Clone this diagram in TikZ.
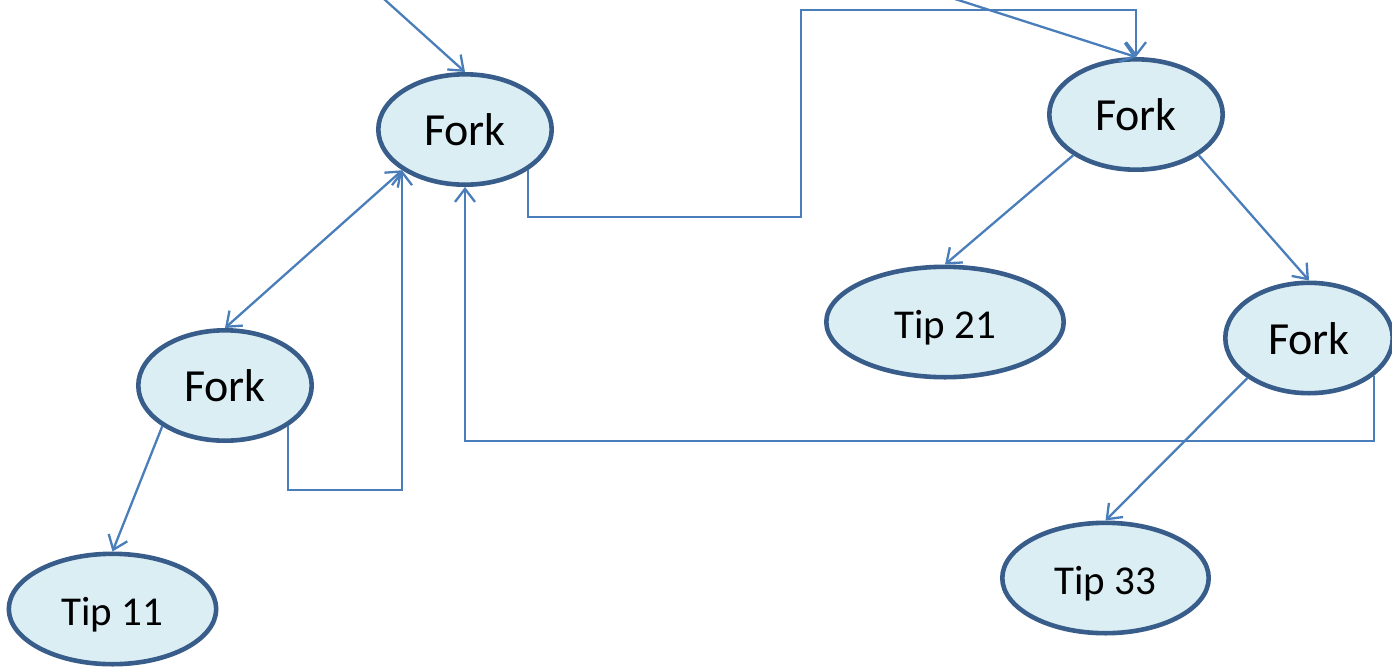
\documentclass[tikz,border=0pt]{standalone}
\usepackage{fontspec}
\setmainfont{Carlito}
\usetikzlibrary{shapes.geometric,arrows.meta}
\definecolor{edgeblue}{HTML}{4A7EBB}
\definecolor{rimblue}{HTML}{385D8A}
\definecolor{fillblue}{HTML}{DBEEF4}
\begin{document}
\begin{tikzpicture}[x=1pt,y=-1pt,
  oval/.style={ellipse,draw=rimblue,fill=fillblue,line width=4.6pt,inner sep=0pt,
    text height=32pt,text depth=0pt,minimum height=110.4pt},
  forkn/.style={oval,minimum width=173.4pt,font=\fontsize{46}{46}\selectfont},
  tipn/.style={oval,font=\fontsize{41}{41}\selectfont},
  conn/.style={draw=edgeblue,line width=2.3pt,-{Straight Barb[length=13pt,width=20pt]}},
  conntwo/.style={draw=edgeblue,line width=2.3pt,{Straight Barb[length=13pt,width=20pt]}-{Straight Barb[length=13pt,width=20pt]}}]
\useasboundingbox (0,0) rectangle (1392,667);
\node[forkn] (f1) at (465,129.5) {Fork};
\node[forkn] (f2) at (1136,114.5) {Fork};
\node[forkn] (f3) at (225,385.5) {Fork};
\node[forkn,minimum width=167.4pt] (f4) at (1309,338) {Fork};
\node[tipn,minimum width=207.4pt] (t11) at (112.5,609) {Tip 11};
\node[tipn,minimum width=237.4pt] (t21) at (945,322) {Tip 21};
\node[tipn,minimum width=206.4pt] (t33) at (1105.5,578) {Tip 33};
\coordinate (s1) at (384,-1);
\coordinate (s2) at (955,-1);
\coordinate (c1) at (801,217);
\coordinate (c2) at (801,10);
\coordinate (c3) at (402,490);
\coordinate (c5) at (465,441);
\draw[conn] (s1) -- (f1.north);
\draw[conn] (s2) -- (f2.north);
\draw[conn] (f1.-33) |- (c1) -- (c2) -| (f2.north);
\draw[conntwo] (f1.-147) -- (f3.north);
\draw[conn] (f3.-33) |- (c3) -- (c3 |- f1.-147);
\draw[conn] (f3.-147) -- (t11.north);
\draw[conn] (f2.-147) -- (t21.north);
\draw[conn] (f2.-33) -- (f4.north);
\draw[conn] (f4.-147) -- (t33.north);
\draw[conn] (f4.-30) |- (c5) -| (f1.south);
\end{tikzpicture}
\end{document}
